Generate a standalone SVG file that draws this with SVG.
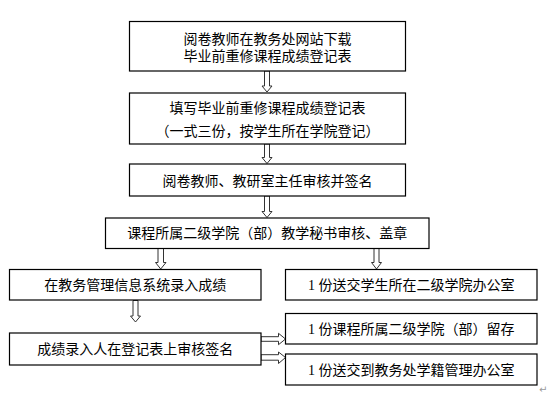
<svg xmlns="http://www.w3.org/2000/svg" width="552" height="401" viewBox="0 0 552 401">
<style>
.box{fill:#fff;stroke:#000;stroke-width:1.2}
.t{font-family:"Liberation Serif","Noto Sans CJK SC",serif;font-size:14px;fill:#000;text-anchor:middle}
.arr{fill:#fff;stroke:#333;stroke-width:1}
.mark{font-family:"DejaVu Sans",sans-serif;font-size:10px;fill:#999}
</style>
<rect width="552" height="401" fill="#fff"/>
<g id="connectors">
<path class="arr" d="M264.5,71 V86 H262 L267,92 L272,86 H269.5 V71 Z"/>
<path class="arr" d="M264.5,144 V157.5 H262 L267,163.5 L272,157.5 H269.5 V144 Z"/>
<path class="arr" d="M264.5,196 V211.5 H262 L267,217.5 L272,211.5 H269.5 V196 Z"/>
<path class="arr" d="M158,248.5 V262.5 H155.5 L160.7,269 L166,262.5 H163.5 V248.5 Z"/>
<path class="arr" d="M374,248.5 V262.5 H371.5 L376.5,269 L381.5,262.5 H379 V248.5 Z"/>
<path class="arr" d="M133,300.5 V316 H130.5 L135.5,322 L140.5,316 H138 V300.5 Z"/>
<path class="arr" d="M261,336.7 H278.5 V333.3 L285.5,339 L278.5,344.7 V341.3 H261 Z"/>
<path class="arr" d="M261,354.7 H278.5 V352 L285.5,357.5 L278.5,363.5 V360.2 H261 Z"/>
</g>
<g id="n1"><rect class="box" x="129.5" y="21.5" width="276" height="49.5"/>
<text class="t" x="267.5" y="43.8">阅卷教师在教务处网站下载</text>
<text class="t" x="267.5" y="60.8">毕业前重修课程成绩登记表</text></g>
<g id="n2"><rect class="box" x="129.5" y="93" width="276" height="51"/>
<text class="t" x="267.5" y="113.3">填写毕业前重修课程成绩登记表</text>
<text class="t" x="267.5" y="136.3">（一式三份，按学生所在学院登记）</text></g>
<g id="n3"><rect class="box" x="129.5" y="164" width="276" height="32"/>
<text class="t" x="267.5" y="185.6">阅卷教师、教研室主任审核并签名</text></g>
<g id="n4"><rect class="box" x="105.5" y="218" width="323.5" height="30.5"/>
<text class="t" x="267.3" y="238.3">课程所属二级学院（部）教学秘书审核、盖章</text></g>
<g id="n5"><rect class="box" x="9.5" y="269.5" width="251.5" height="30.5"/>
<text class="t" x="135.2" y="290.3">在教务管理信息系统录入成绩</text></g>
<g id="n6"><rect class="box" x="285.5" y="269.5" width="251.5" height="30.5"/>
<text class="t" x="411.3" y="290.3">1 份送交学生所在二级学院办公室</text></g>
<g id="n7"><rect class="box" x="9.5" y="333" width="251.5" height="32"/>
<text class="t" x="135.2" y="354.3">成绩录入人在登记表上审核签名</text></g>
<g id="n8"><rect class="box" x="285.5" y="313.5" width="251.5" height="30.5"/>
<text class="t" x="411.3" y="334">1 份课程所属二级学院（部）留存</text></g>
<g id="n9"><rect class="box" x="285.5" y="354" width="251.5" height="31"/>
<text class="t" x="411.3" y="374.8">1 份送交到教务处学籍管理办公室</text></g>
<text class="mark" x="539" y="393">↵</text>
</svg>
